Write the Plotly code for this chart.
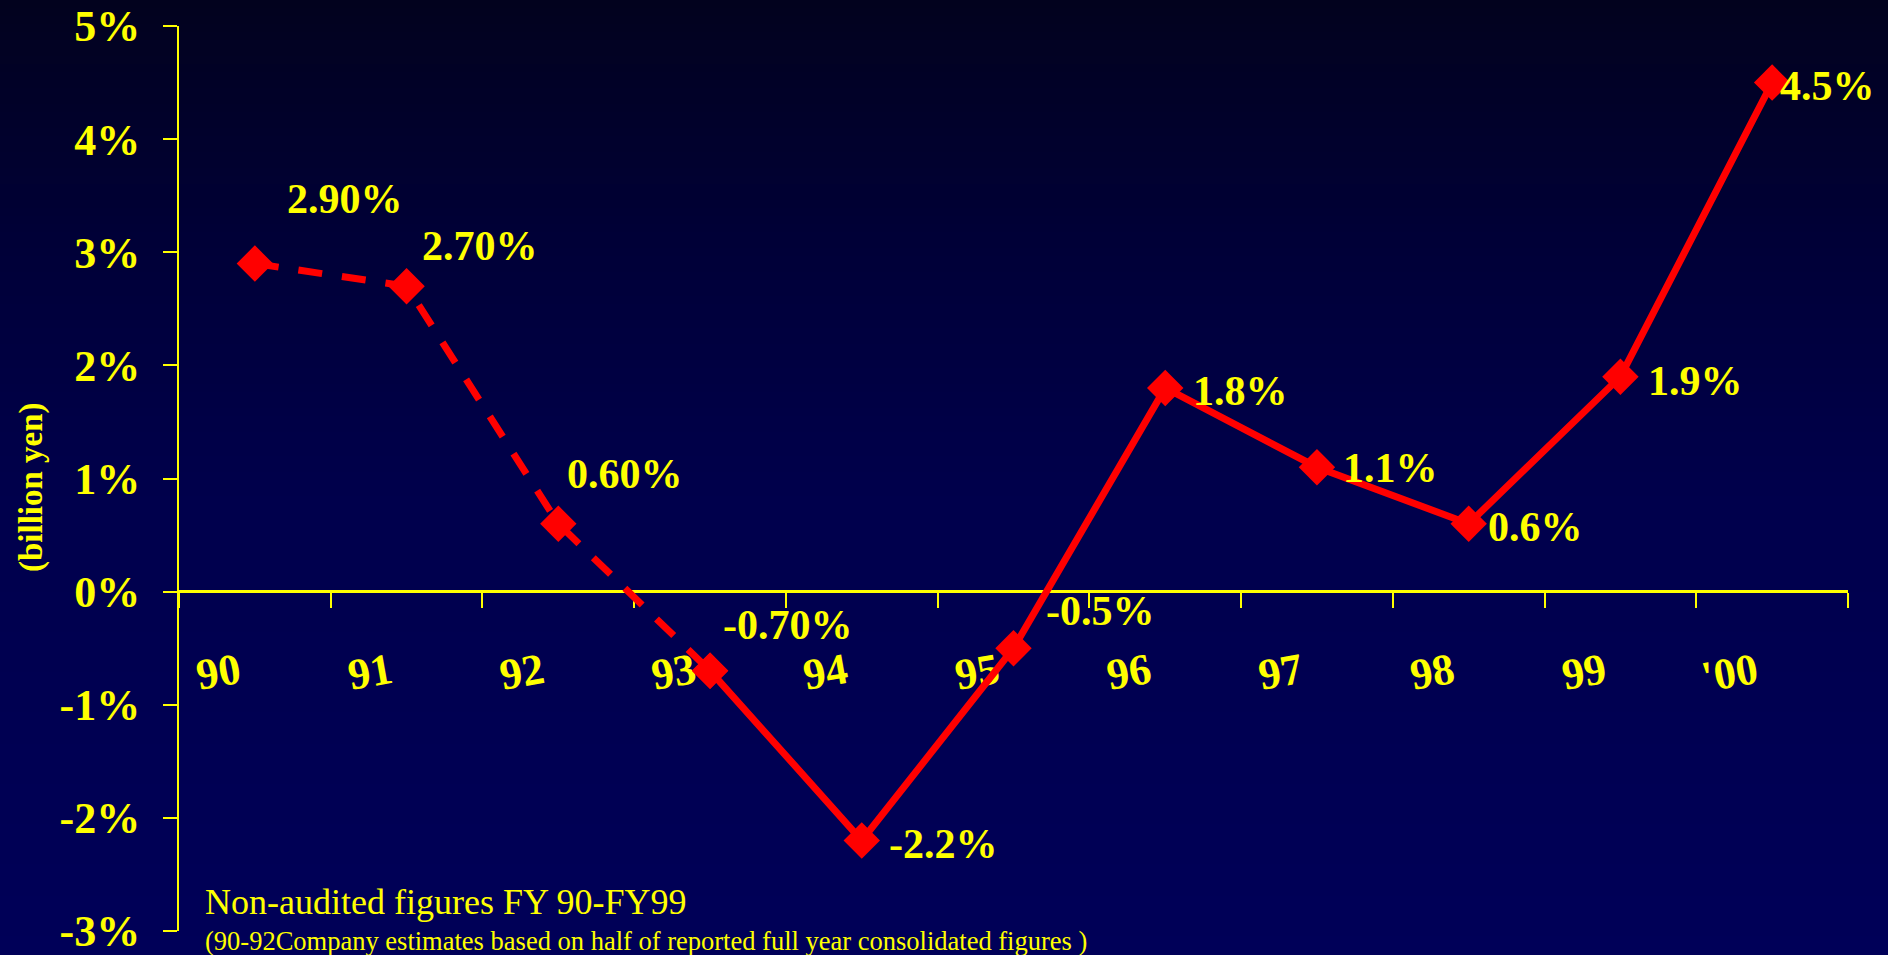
import plotly.graph_objects as go

# ---------------- data ----------------
years = ["90", "91", "92", "93", "94", "95", "96", "97", "98", "99", "'00"]
margin_pct = [2.9, 2.7, 0.6, -0.7, -2.2, -0.5, 1.8, 1.1, 0.6, 1.9, 4.5]
label_text = ["2.90%", "2.70%", "0.60%", "-0.70%", "-2.2%", "-0.5%",
              "1.8%", "1.1%", "0.6%", "1.9%", "4.5%"]
estimated_points = 4  # FY90-FY93 segment drawn dashed (company estimates)
y_tick_vals = [-3, -2, -1, 0, 1, 2, 3, 4, 5]
y_tick_text = ["-3%", "-2%", "-1%", "0%", "1%", "2%", "3%", "4%", "5%"]
note_main = "Non-audited figures FY 90-FY99"
note_sub = "(90-92Company estimates based on half of reported full year consolidated figures )"
y_title = "(billion yen)"

# ---------------- style ----------------
W, H = 1888, 955
ML, MR, MT, MB = 179, 40, 26, 24
PW, PH = W - ML - MR, H - MT - MB
YELLOW = "#FFFF00"
RED = "#FF0000"
SERIF = "Liberation Serif, Times New Roman, serif"

# label offsets (pixels) relative to each point: left-edge shift, upward shift
label_dx = [30, 13, 7, 11, 25, 30, 26, 24, 17, 26, 6]
label_dy = [65, 40, 50, 46, -3, 37, -3, -1, -3, -4, -3]


def px_x(px):
    return (px - ML) / PW


def px_y(py):
    return (H - MB - py) / PH


# background vertical gradient built from bands
stops = [(0, (2, 2, 30)), (250, (0, 0, 56)), (500, (0, 0, 76)), (955, (0, 0, 88))]


def grad(py):
    for (p0, c0), (p1, c1) in zip(stops[:-1], stops[1:]):
        if p0 <= py <= p1:
            t = (py - p0) / (p1 - p0)
            return "rgb(%d,%d,%d)" % tuple(round(a + (b - a) * t) for a, b in zip(c0, c1))
    return "rgb(%d,%d,%d)" % stops[-1][1]


shapes = []
band = 8
for top in range(0, H, band):
    shapes.append(dict(type="rect", xref="paper", yref="paper", layer="below",
                       x0=px_x(-5), x1=px_x(W + 5),
                       y0=px_y(top + band + 1 if top + band < H else H + 10),
                       y1=px_y(top if top > 0 else -10),
                       line=dict(width=0), fillcolor=grad(top + band / 2)))

fig = go.Figure()
marker = dict(symbol="diamond", size=28, color=RED, line=dict(width=0))
fig.add_trace(go.Scatter(x=years[:estimated_points], y=margin_pct[:estimated_points],
                         mode="lines+markers", line=dict(color=RED, width=7, dash="24px,20px"),
                         marker=marker, cliponaxis=False, showlegend=False, hoverinfo="skip"))
fig.add_trace(go.Scatter(x=years[estimated_points - 1:], y=margin_pct[estimated_points - 1:],
                         mode="lines+markers", line=dict(color=RED, width=7),
                         marker=marker, cliponaxis=False, showlegend=False, hoverinfo="skip"))

annotations = []
for i, (v, t) in enumerate(zip(margin_pct, label_text)):
    annotations.append(dict(x=i, y=v, xref="x", yref="y", text=t, showarrow=False,
                            xanchor="left", yanchor="middle", xshift=label_dx[i], yshift=label_dy[i],
                            font=dict(family=SERIF, size=42, color=YELLOW, weight="bold")))

annotations.append(dict(x=px_x(31), y=px_y(487), xref="paper", yref="paper", text=y_title,
                        textangle=-90, showarrow=False, xanchor="center", yanchor="middle",
                        font=dict(family=SERIF, size=33, color=YELLOW, weight="bold")))
annotations.append(dict(x=px_x(203), y=px_y(902), xref="paper", yref="paper", text=note_main,
                        showarrow=False, xanchor="left", yanchor="middle",
                        font=dict(family=SERIF, size=36, color=YELLOW)))
annotations.append(dict(x=px_x(203), y=px_y(941), xref="paper", yref="paper", text=note_sub,
                        showarrow=False, xanchor="left", yanchor="middle",
                        font=dict(family=SERIF, size=26.5, color=YELLOW)))

fig.update_layout(
    width=W, height=H,
    margin=dict(l=ML, r=MR, t=MT, b=MB, pad=0, autoexpand=False),
    paper_bgcolor="rgb(2,2,30)", plot_bgcolor="rgba(0,0,0,0)",
    shapes=shapes, annotations=annotations, showlegend=False,
    xaxis=dict(type="category", categoryorder="array", categoryarray=years,
               range=[-0.5, len(years) - 0.5], anchor="free", position=px_y(591),
               showline=True, linecolor=YELLOW, linewidth=3, automargin=False,
               ticks="outside", tickson="boundaries", ticklen=15, tickwidth=2, tickcolor=YELLOW,
               showgrid=False, zeroline=False, tickangle=-10, ticklabelstandoff=37,
               ticklabelshift=-16,
               tickfont=dict(family=SERIF, size=44, color=YELLOW, weight="bold"),
               layer="below traces", fixedrange=True),
    yaxis=dict(range=[-3, 5], tickvals=y_tick_vals, ticktext=y_tick_text,
               showline=True, linecolor=YELLOW, linewidth=2, automargin=False,
               ticks="outside", ticklen=14, tickwidth=2, tickcolor=YELLOW,
               showgrid=False, zeroline=False, ticklabelstandoff=14,
               ticklabeloverflow="allow",
               tickfont=dict(family=SERIF, size=44, color=YELLOW, weight="bold"),
               layer="below traces", fixedrange=True),
)

fig.write_html("out.html", config={"displayModeBar": False})
